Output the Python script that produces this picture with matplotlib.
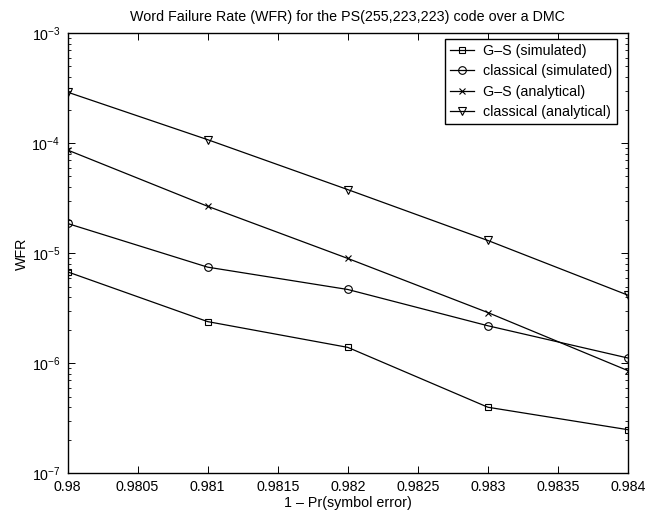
import matplotlib
matplotlib.use('Agg')
import matplotlib.pyplot as plt
from matplotlib.ticker import FixedLocator, FuncFormatter, LogLocator

plt.rcParams['font.family'] = ['Liberation Sans', 'DejaVu Sans']
plt.rcParams['mathtext.fontset'] = 'custom'
plt.rcParams['mathtext.rm'] = 'Liberation Sans'
plt.rcParams['mathtext.it'] = 'Liberation Sans'
plt.rcParams['mathtext.default'] = 'regular'

# Данные
p_correct = [0.98, 0.981, 0.982, 0.983, 0.984]
gs_simulated = [6.8e-6, 2.4e-6, 1.4e-6, 4.0e-7, 2.5e-7]
classical_simulated = [1.87e-5, 7.5e-6, 4.7e-6, 2.2e-6, 1.12e-6]
gs_analytical = [8.7e-5, 2.68e-5, 9.0e-6, 2.9e-6, 8.6e-7]
classical_analytical = [2.92e-4, 1.08e-4, 3.8e-5, 1.31e-5, 4.17e-6]

x_ticks = [0.98, 0.9805, 0.981, 0.9815, 0.982, 0.9825, 0.983, 0.9835, 0.984]
x_tick_labels = ['0.98', '0.9805', '0.981', '0.9815', '0.982', '0.9825', '0.983', '0.9835', '0.984']

fs = 10.3

fig = plt.figure(figsize=(6.64, 5.14), dpi=100)
ax = fig.add_axes([0.1017, 0.0788, 0.8441, 0.8564])

ax.semilogy(p_correct, gs_simulated, 'k-', marker='s', ms=4.5, mfc='none', lw=0.9, mew=0.8, label='G–S (simulated)')
ax.semilogy(p_correct, classical_simulated, 'k-', marker='o', ms=5.5, mfc='none', lw=0.9, mew=0.8, label='classical (simulated)')
ax.semilogy(p_correct, gs_analytical, 'k-', marker='x', ms=4.5, lw=0.9, mew=0.8, label='G–S (analytical)')
ax.semilogy(p_correct, classical_analytical, 'k-', marker='v', ms=6, mfc='none', lw=0.9, mew=0.8, label='classical (analytical)')

ax.set_xlim(0.98, 0.984)
ax.set_ylim(1e-7, 1e-3)
ax.xaxis.set_major_locator(FixedLocator(x_ticks))
ax.xaxis.set_major_formatter(FuncFormatter(lambda v, pos: x_tick_labels[pos] if pos is not None and pos < len(x_tick_labels) else ''))
ax.yaxis.set_major_locator(LogLocator(base=10, numticks=10))
ax.yaxis.set_minor_locator(LogLocator(base=10, subs=range(2, 10), numticks=20))

ax.tick_params(which='both', direction='in', top=True, right=True, labelsize=fs)
ax.tick_params(which='major', length=5, width=0.7)
ax.tick_params(which='minor', length=2.5, width=0.6)
ax.tick_params(axis='x', pad=5)
ax.tick_params(axis='y', pad=5)
for s in ax.spines.values():
    s.set_linewidth(1.0)

ax.set_title('Word Failure Rate (WFR) for the PS(255,223,223) code over a DMC', fontsize=fs, pad=9)
ax.set_xlabel('1 – Pr(symbol error)', fontsize=fs, labelpad=1)
ax.set_ylabel('WFR', fontsize=fs, labelpad=1.5)

leg = ax.legend(loc='upper right', bbox_to_anchor=(0.98, 0.987), borderaxespad=0, fontsize=fs,
                fancybox=False, framealpha=1, edgecolor='black', handlelength=1.7, handletextpad=0.6,
                labelspacing=0.45, borderpad=0.35, numpoints=1)
leg.get_frame().set_linewidth(1.0)

fig.savefig('out.png', dpi=100)
